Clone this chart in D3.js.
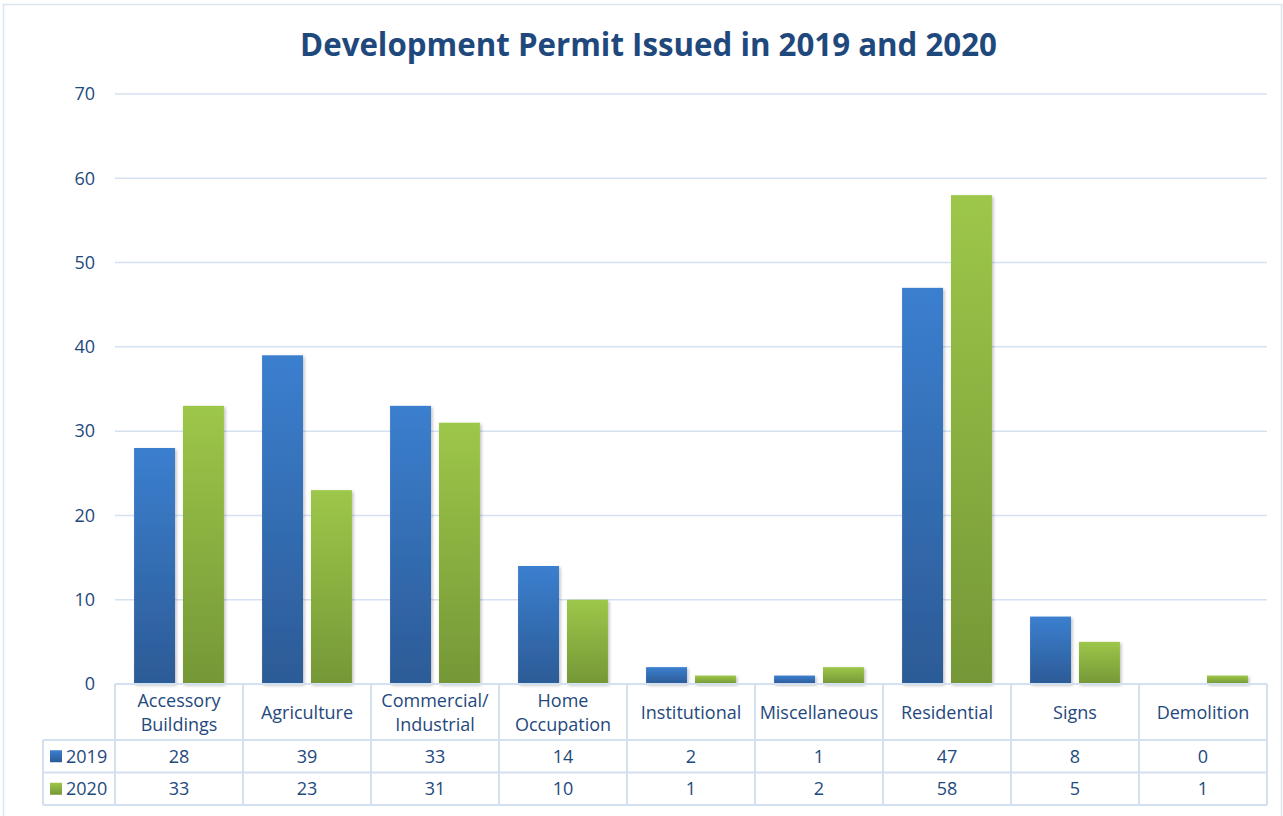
<!DOCTYPE html>
<html>
<head>
<meta charset="utf-8">
<script src="https://cdn.jsdelivr.net/npm/d3@7"></script>
<style>
  html, body { margin: 0; padding: 0; background: #fff; }
  svg { display: block; }
  text { font-family: "Open Sans", "Liberation Sans", sans-serif; fill: #1F497D; }
</style>
</head>
<body>
<svg id="chart" width="1283" height="816"></svg>
<script>
// Permit categories (multi-line labels for the data table header)
const categories = [
  ["Accessory", "Buildings"],
  ["Agriculture"],
  ["Commercial/", "Industrial"],
  ["Home", "Occupation"],
  ["Institutional"],
  ["Miscellaneous"],
  ["Residential"],
  ["Signs"],
  ["Demolition"]
];
const seriesNames = ["2019", "2020"];
const values2019 = [28, 39, 33, 14, 2, 1, 47, 8, 0];
const values2020 = [33, 23, 31, 10, 1, 2, 58, 5, 1];
const yTicks = [0, 10, 20, 30, 40, 50, 60, 70];
const titleText = "Development Permit Issued in 2019 and 2020";

const seriesValues = [values2019, values2020];
const catKeys = categories.map(c => c.join(" "));

const svg = d3.select("#chart");

const plot = { left: 115, right: 1267, top: 94, bottom: 684 };
const table = { left: 43, headerBottom: 740, rowH: 32.5 };

const gridColor = "#D4E1F2";
const textColor = "#1F497D";

// Outer chart frame
svg.append("rect")
  .attr("x", 3.5).attr("y", 4.5)
  .attr("width", 1278).attr("height", 830)
  .attr("fill", "none").attr("stroke", "#DAE5F3").attr("stroke-width", 1.5);

// Gradients and shadow
const defs = svg.append("defs");
const gradStops = [
  { id: "g2019", top: "#3B7FCF", bottom: "#2C5B96" },
  { id: "g2020", top: "#9DC749", bottom: "#759737" }
];
gradStops.forEach(g => {
  const lg = defs.append("linearGradient").attr("id", g.id)
    .attr("x1", 0).attr("y1", 0).attr("x2", 0).attr("y2", 1);
  lg.append("stop").attr("offset", "0%").attr("stop-color", g.top);
  lg.append("stop").attr("offset", "100%").attr("stop-color", g.bottom);
});
const filt = defs.append("filter").attr("id", "shadow")
  .attr("x", "-20%").attr("y", "-20%").attr("width", "150%").attr("height", "150%");
filt.append("feDropShadow").attr("dx", 1.5).attr("dy", 1.5)
  .attr("stdDeviation", 1.8).attr("flood-color", "#000").attr("flood-opacity", 0.25);

// Scales
const x = d3.scaleBand().domain(catKeys).range([plot.left, plot.right]).padding(0);
const xs = d3.scaleBand().domain(seriesNames).range([0, x.bandwidth()])
  .paddingInner(0.163).paddingOuter(0.39);
const y = d3.scaleLinear().domain([0, 70]).range([plot.bottom, plot.top]);

// Title
const title = svg.append("text")
  .attr("x", 648.5).attr("y", 56)
  .attr("text-anchor", "middle")
  .style("font-weight", "700")
  .style("font-size", "30px")
  .text(titleText);
const tw = title.node().getComputedTextLength();
title.style("font-size", (30 * 697 / tw) + "px");

// Gridlines
svg.append("g").selectAll("line")
  .data(yTicks.filter(t => t > 0))
  .join("line")
  .attr("x1", plot.left).attr("x2", plot.right)
  .attr("y1", d => y(d)).attr("y2", d => y(d))
  .attr("stroke", gridColor).attr("stroke-width", 1.5);

// Y axis labels
const yAxis = d3.axisLeft(y).tickValues(yTicks).tickSize(0).tickPadding(20);
const yg = svg.append("g").attr("transform", `translate(${plot.left},0)`).call(yAxis);
yg.select(".domain").remove();
yg.selectAll("text")
  .attr("fill", textColor)
  .style("font-size", "18px")
  .style("font-family", "\"Open Sans\", sans-serif");

// Bars
const barG = svg.append("g");
seriesNames.forEach((s, si) => {
  barG.append("g").selectAll("rect")
    .data(seriesValues[si].map((v, i) => ({ cat: catKeys[i], v })))
    .join("rect")
    .attr("x", d => x(d.cat) + xs(s))
    .attr("width", xs.bandwidth())
    .attr("y", d => y(d.v))
    .attr("height", d => y(0) - y(d.v))
    .attr("fill", `url(#g${s})`)
    .attr("filter", d => d.v > 0 ? "url(#shadow)" : null);
});

// Data table
const tg = svg.append("g");
const rowTop = i => table.headerBottom + i * table.rowH;
const tableBottom = rowTop(2);

// horizontal lines
tg.append("line").attr("x1", plot.left).attr("x2", plot.right)
  .attr("y1", plot.bottom).attr("y2", plot.bottom);
[0, 1, 2].forEach(i => {
  tg.append("line").attr("x1", table.left).attr("x2", plot.right)
    .attr("y1", rowTop(i)).attr("y2", rowTop(i));
});
// vertical lines
tg.append("line").attr("x1", table.left).attr("x2", table.left)
  .attr("y1", table.headerBottom).attr("y2", tableBottom);
catKeys.forEach(k => {
  tg.append("line").attr("x1", x(k)).attr("x2", x(k))
    .attr("y1", plot.bottom).attr("y2", tableBottom);
});
tg.append("line").attr("x1", plot.right).attr("x2", plot.right)
  .attr("y1", plot.bottom).attr("y2", tableBottom);
tg.selectAll("line").attr("stroke", "#D3E0F0").attr("stroke-width", 2);

// header labels
const headerMid = (plot.bottom + table.headerBottom) / 2 + 1;
categories.forEach((lines, i) => {
  const cx = x(catKeys[i]) + x.bandwidth() / 2;
  const lh = 24;
  const t = tg.append("text")
    .attr("x", cx)
    .attr("text-anchor", "middle")
    .style("font-size", "18px");
  lines.forEach((ln, j) => {
    t.append("tspan")
      .attr("x", cx)
      .attr("y", headerMid + (j - (lines.length - 1) / 2) * lh)
      .attr("dy", "0.35em")
      .text(ln);
  });
});

// value rows with legend keys
seriesNames.forEach((s, si) => {
  const cy = rowTop(si) + table.rowH / 2;
  tg.append("rect")
    .attr("x", 50).attr("y", cy - 6)
    .attr("width", 12).attr("height", 12)
    .attr("fill", `url(#g${s})`);
  tg.append("text")
    .attr("x", 66).attr("y", cy).attr("dy", "0.35em")
    .style("font-size", "18px")
    .text(s);
  seriesValues[si].forEach((v, i) => {
    tg.append("text")
      .attr("x", x(catKeys[i]) + x.bandwidth() / 2)
      .attr("y", cy).attr("dy", "0.35em")
      .attr("text-anchor", "middle")
      .style("font-size", "18px")
      .text(v);
  });
});
</script>
</body>
</html>
